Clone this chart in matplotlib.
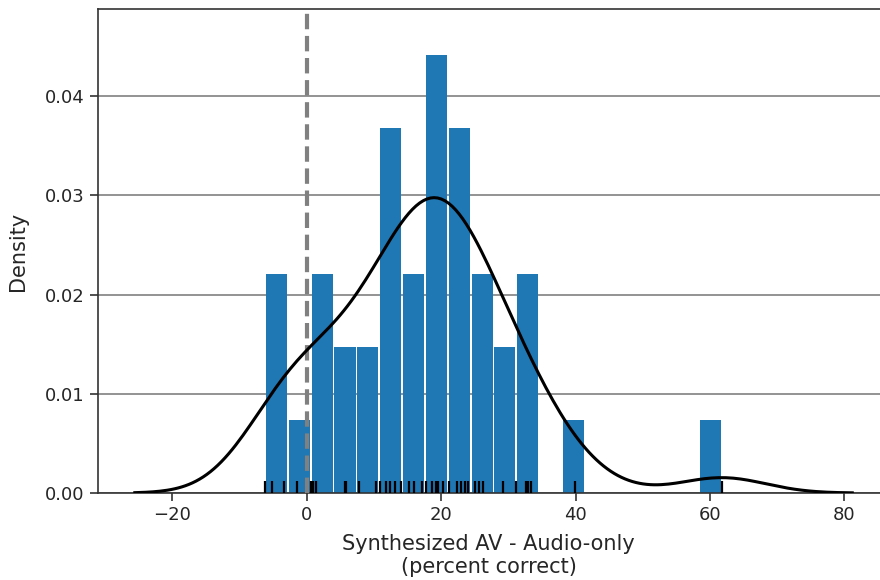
import numpy as np
import matplotlib
matplotlib.use("Agg")
import matplotlib.pyplot as plt
import matplotlib.transforms as mtransforms

diffs = [-6.2, -5.1, -3.4,
         -1.5,
         0.7, 0.95, 1.35,
         5.65, 5.9,
         7.8, 10.3,
         10.9, 11.8, 12.4, 13.1, 14.0,
         15.2, 15.9, 17.1,
         17.7, 18.6, 19.3, 19.4, 19.5, 20.3,
         21.2, 22.3, 22.9, 23.5, 24.0,
         25.0, 25.7, 26.2,
         29.2, 31.1,
         32.6, 32.9, 33.3,
         39.9,
         61.8]
n_bins = 20
xticks = [-20, 0, 20, 40, 60, 80]
yticks = [0.00, 0.01, 0.02, 0.03, 0.04]

data = np.array(diffs)

plt.rcParams['font.family'] = 'DejaVu Sans'
plt.rcParams['font.size'] = 13
plt.rcParams['axes.labelsize'] = 15
plt.rcParams['text.color'] = '#262626'
plt.rcParams['axes.labelcolor'] = '#262626'
plt.rcParams['xtick.color'] = '#262626'
plt.rcParams['ytick.color'] = '#262626'

fig = plt.figure(figsize=(8.8, 5.8), dpi=100)
ax = fig.add_axes([0.111, 0.15, 0.889, 0.8345])

# histogram
ax.hist(data, bins=n_bins, density=True, color='#1f77b4', rwidth=0.92,
        edgecolor='none', zorder=2)

# gaussian kde, scott bandwidth, cut=3 (like seaborn distplot)
bw = data.std(ddof=1) * len(data) ** (-1 / 5)
grid = np.linspace(data.min() - 3 * bw, data.max() + 3 * bw, 200)
dens = np.exp(-0.5 * ((grid[:, None] - data[None, :]) / bw) ** 2).sum(axis=1)
dens /= len(data) * bw * np.sqrt(2 * np.pi)
ax.plot(grid, dens, color='black', lw=2.2, zorder=4)

# rug
trans = mtransforms.blended_transform_factory(ax.transData, ax.transAxes)
for v in data:
    ax.plot([v, v], [0, 0.025], color='black', lw=1.6, transform=trans,
            zorder=5, solid_capstyle='butt')

# zero line
ax.axvline(0, color='gray', lw=3, ls='--', zorder=3)

ax.set_xlim(-31.1, 85.3)
ax.set_ylim(0, 0.0488)
ax.set_xticks(xticks)
ax.set_yticks(yticks)
ax.yaxis.grid(True, color='gray', lw=1.2)
ax.set_axisbelow(True)

for s in ['left', 'top', 'bottom']:
    ax.spines[s].set_color('#333333')
    ax.spines[s].set_linewidth(1.2)
ax.spines['right'].set_visible(False)
ax.tick_params(length=6, width=1.2, color='#333333')

ax.set_xlabel('Synthesized AV - Audio-only\n(percent correct)', labelpad=7)
ax.set_ylabel('Density', labelpad=12)

fig.savefig('out.png', dpi=100)
